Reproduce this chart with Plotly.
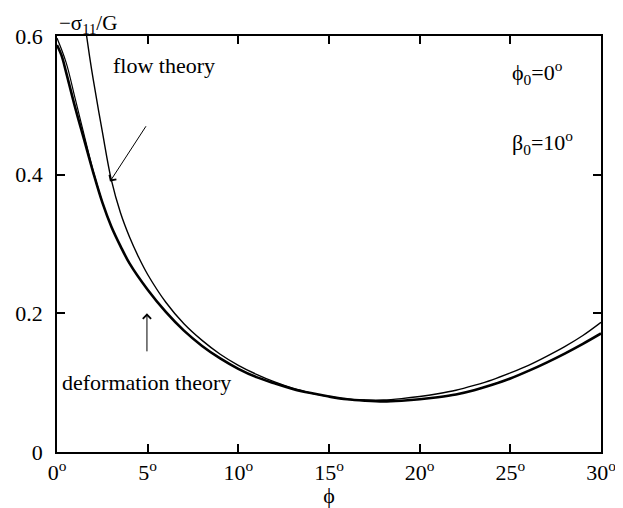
import plotly.graph_objects as go

# ---- data ----
phi_def = [0, 0.25, 0.5, 1.0, 1.5, 2.0, 2.5, 3.0, 3.5, 4.0, 5.0, 6.0, 7.0, 8.0, 9.0, 10.0,
           11.0, 12.0, 13.0, 14.0, 15.0, 16.0, 17.0, 18.0, 19.0, 20.0, 21.0, 22.0, 23.0,
           24.0, 25.0, 26.0, 27.0, 28.0, 29.0, 30.0]
sig_def = [0.587, 0.572, 0.548, 0.497, 0.450, 0.403, 0.360, 0.325, 0.297, 0.272, 0.234,
           0.202, 0.175, 0.153, 0.135, 0.120, 0.108, 0.099, 0.091, 0.085, 0.080, 0.076,
           0.074, 0.073, 0.074, 0.076, 0.079, 0.083, 0.089, 0.097, 0.106, 0.117, 0.129,
           0.142, 0.156, 0.171]

phi_def2 = [0, 0.5, 1.0, 1.5, 2.0, 2.5]
sig_def2 = [0.597, 0.562, 0.510, 0.457, 0.405, 0.360]

phi_flow = [1.55, 1.8, 2.0, 2.5, 3.0, 3.5, 4.0, 4.5, 5.0, 6.0, 7.0, 8.0, 9.0, 10.0, 11.0,
            12.0, 13.0, 14.0, 15.0, 16.0, 17.0, 18.0, 19.0, 20.0, 21.0, 22.0, 23.0, 24.0,
            25.0, 26.0, 27.0, 28.0, 29.0, 30.0]
sig_flow = [0.615, 0.570, 0.537, 0.462, 0.392, 0.345, 0.310, 0.281, 0.256, 0.216, 0.185,
            0.161, 0.141, 0.125, 0.112, 0.101, 0.092, 0.085, 0.080, 0.076, 0.075, 0.075,
            0.077, 0.080, 0.084, 0.089, 0.096, 0.104, 0.114, 0.125, 0.138, 0.152, 0.168,
            0.187]

x_ticks = [0, 5, 10, 15, 20, 25, 30]
x_ticktext = ["0<sup>o</sup>", "5<sup>o</sup>", "10<sup>o</sup>", "15<sup>o</sup>",
              "20<sup>o</sup>", "25<sup>o</sup>", "30<sup>o</sup>"]
y_ticks = [0, 0.2, 0.4, 0.6]
y_ticktext = ["0", "0.2", "0.4", "0.6"]

FONT = "Liberation Serif, Times New Roman, serif"

fig = go.Figure()
fig.add_trace(go.Scatter(x=phi_flow, y=sig_flow, mode="lines",
                         line=dict(color="black", width=1.4, shape="spline"),
                         name="flow theory"))
fig.add_trace(go.Scatter(x=phi_def2, y=sig_def2, mode="lines",
                         line=dict(color="black", width=1.2, shape="spline"),
                         name="deformation 2"))
fig.add_trace(go.Scatter(x=phi_def, y=sig_def, mode="lines",
                         line=dict(color="black", width=2.6, shape="spline"),
                         name="deformation theory"))

axis_common = dict(showline=True, linecolor="black", linewidth=1.6, mirror="allticks",
                   ticks="inside", ticklen=8, tickwidth=1.5, tickcolor="black",
                   showgrid=False, zeroline=False, automargin=False,
                   tickfont=dict(family=FONT, size=22, color="black"))

fig.update_xaxes(range=[0, 30], tickvals=x_ticks, ticktext=x_ticktext,
                 title=dict(text="ϕ", font=dict(family=FONT, size=22, color="black"), standoff=0),
                 **axis_common)
fig.update_yaxes(range=[0, 0.6], tickvals=y_ticks, ticktext=y_ticktext,
                 ticklabelstandoff=8, **axis_common)

annotations = [
    dict(x=0, y=1, xref="paper", yref="paper", xanchor="left", yanchor="bottom",
         text="−σ<sub>11</sub>/G", showarrow=False, yshift=-3,
         font=dict(family=FONT, size=21, color="black")),
    dict(x=5.9, y=0.558, xref="x", yref="y", text="flow theory", showarrow=False,
         font=dict(family=FONT, size=22, color="black")),
    dict(x=2.92, y=0.39, xref="x", yref="y", ax=4.96, ay=0.472, axref="x", ayref="y",
         text="", showarrow=True, arrowhead=4, arrowsize=1.6, arrowwidth=1, arrowcolor="black"),
    dict(x=4.96, y=0.10, xref="x", yref="y", text="deformation theory", showarrow=False,
         font=dict(family=FONT, size=22, color="black")),
    dict(x=4.96, y=0.2, xref="x", yref="y", ax=4.96, ay=0.143, axref="x", ayref="y",
         text="", showarrow=True, arrowhead=4, arrowsize=1.6, arrowwidth=1, arrowcolor="black"),
    dict(x=25.0, y=0.548, xref="x", yref="y", xanchor="left",
         text="ϕ<sub>0</sub>=0<sup>o</sup>", showarrow=False,
         font=dict(family=FONT, size=22, color="black")),
    dict(x=25.0, y=0.446, xref="x", yref="y", xanchor="left",
         text="β<sub>0</sub>=10<sup>o</sup>", showarrow=False,
         font=dict(family=FONT, size=22, color="black")),
]

# page body has an 8px margin, so the figure is 8px smaller than the window
fig.update_layout(width=615, height=500, margin=dict(l=49, r=22, t=28, b=56),
                  paper_bgcolor="white", plot_bgcolor="white", showlegend=False,
                  annotations=annotations)

fig.write_html("out.html")
